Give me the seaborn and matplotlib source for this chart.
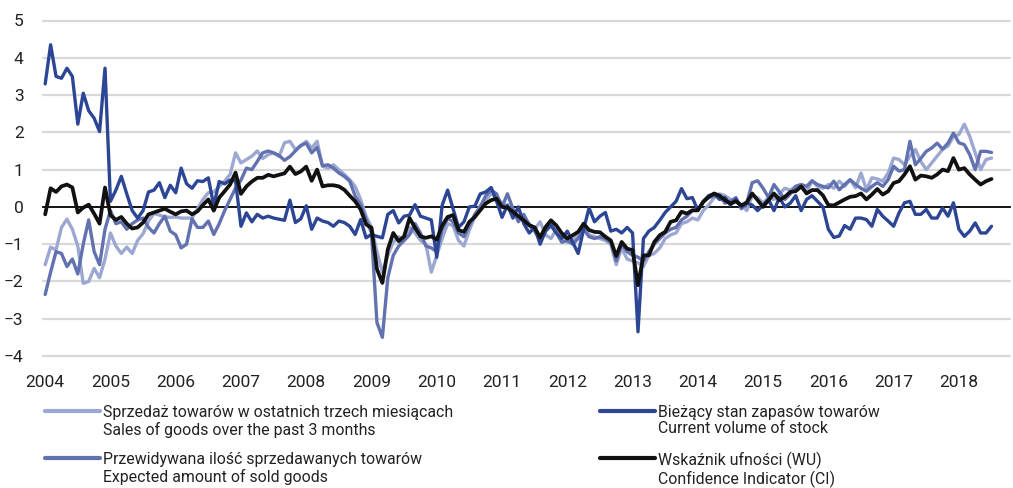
import pandas as pd
import numpy as np
import matplotlib.pyplot as plt
import seaborn as sns
from matplotlib.lines import Line2D
from matplotlib.ticker import FixedLocator

# monthly values, Jan 2004 - Jul 2018
sales = [
    -1.55, -1.08, -1.15, -0.55, -0.33, -0.6, -1.05, -2.05, -2.0, -1.65, -1.9, -1.4,
    -0.7, -1.05, -1.25, -1.08, -1.25, -0.9, -0.72, -0.38, -0.18, -0.22, -0.27, -0.28,
    -0.27, -0.3, -0.3, -0.3, -0.05, 0.2, 0.38, 0.4, 0.55, 0.69, 0.87, 1.45,
    1.18, 1.27, 1.36, 1.5, 1.3, 1.4, 1.45, 1.35, 1.72, 1.76, 1.54, 1.63,
    1.76, 1.58, 1.76, 1.09, 1.04, 1.13, 1.0, 0.87, 0.73, 0.55, 0.2, -0.25,
    -0.55, -1.2, -1.75, -1.3, -0.95, -0.8, -0.9, -0.55, -0.7, -0.9, -1.0, -1.75,
    -1.3, -0.85, -0.45, -0.5, -0.9, -1.05, -0.62, -0.27, 0.04, 0.18, 0.36, 0.25,
    0.1, 0.0, -0.1, -0.35, -0.25, -0.45, -0.6, -0.4, -0.75, -0.85, -0.6, -0.7,
    -0.95, -0.9, -0.75, -0.5, -0.75, -0.8, -0.85, -0.9, -1.0, -1.55, -1.1, -1.4,
    -1.45, -1.5, -1.6, -1.3, -1.25, -1.1, -0.85, -0.75, -0.7, -0.45, -0.4, -0.3,
    -0.35, -0.1, 0.05, 0.25, 0.35, 0.3, 0.2, 0.15, 0.05, -0.1, 0.3, 0.25,
    0.1, 0.25, 0.2, 0.35, 0.5, 0.45, 0.55, 0.6, 0.4, 0.7, 0.55, 0.5,
    0.6, 0.5, 0.69, 0.55, 0.73, 0.51, 0.91, 0.46, 0.78, 0.75, 0.69, 0.91,
    1.31, 1.27, 1.13, 1.36, 1.54, 1.22, 1.0, 1.18, 1.36, 1.54, 1.63, 1.89,
    1.94, 2.22, 1.89, 1.45, 1.0, 1.27, 1.31,
]
expected = [
    -2.35, -1.75, -1.2, -1.25, -1.6, -1.4, -1.8, -1.0, -0.35, -1.2, -1.55, -0.6,
    -0.1, -0.45, -0.4, -0.6, -0.45, -0.35, -0.3, -0.55, -0.7, -0.45, -0.25, -0.65,
    -0.75, -1.1, -1.0, -0.32, -0.55, -0.55, -0.38, -0.74, -0.45, -0.1, 0.2, 0.5,
    0.72, 1.04, 1.0, 1.22, 1.45, 1.5, 1.45, 1.38, 1.25, 1.35, 1.5, 1.65,
    1.71, 1.45, 1.6, 1.1, 1.13, 1.04, 0.91, 0.82, 0.69, 0.29, 0.06, -0.34,
    -0.7, -3.1, -3.5, -1.9, -1.3, -1.05, -0.9, -0.75, -0.45, -0.7, -1.05, -1.1,
    -1.2, -0.6, -0.3, -0.4, -0.7, -0.8, -0.5, -0.2, 0.0, 0.3, 0.45, 0.35,
    0.0, 0.35, -0.05, -0.4, -0.2, -0.5, -0.65, -0.9, -0.6, -0.45, -0.7, -0.95,
    -0.9, -1.0, -0.85, -0.6, -0.8, -0.85, -0.8, -0.85, -0.95, -1.45, -1.0, -1.2,
    -1.3, -1.35, -1.45, -1.2, -1.0, -0.85, -0.7, -0.6, -0.55, -0.35, -0.25, -0.1,
    -0.1, 0.15, 0.25, 0.3, 0.3, 0.1, 0.15, 0.25, -0.05, 0.1, 0.65, 0.7,
    0.5, 0.25, 0.6, 0.4, 0.2, 0.35, 0.55, 0.6, 0.55, 0.7, 0.6, 0.55,
    0.51, 0.69, 0.46, 0.6, 0.73, 0.6, 0.5, 0.42, 0.55, 0.65, 0.55, 0.73,
    1.09, 0.96, 1.0, 1.76, 1.13, 1.3, 1.49, 1.58, 1.71, 1.55, 1.71, 1.98,
    1.72, 1.67, 1.4, 1.0, 1.49, 1.49, 1.46,
]
stock = [
    3.3, 4.35, 3.5, 3.45, 3.72, 3.5, 2.22, 3.05, 2.58, 2.38, 2.02, 3.72,
    0.15, 0.45, 0.82, 0.35, -0.1, -0.3, -0.1, 0.4, 0.45, 0.65, 0.25, 0.58,
    0.38, 1.04, 0.62, 0.5, 0.7, 0.68, 0.78, 0.03, 0.68, 0.62, 0.72, 0.7,
    -0.52, -0.16, -0.4, -0.2, -0.3, -0.25, -0.3, -0.33, -0.36, 0.18, -0.42, -0.32,
    0.03, -0.6, -0.3, -0.38, -0.42, -0.52, -0.38, -0.42, -0.52, -0.74, -0.34, -0.83,
    -0.74, -0.79, -0.83, -0.2, -0.1, -0.43, -0.25, -0.22, 0.06, -0.25, -0.3, -0.35,
    -1.35, 0.05, 0.45, -0.05, -0.55, -0.4, 0.0, 0.02, 0.35, 0.4, 0.52, 0.15,
    -0.28, 0.05, -0.3, 0.0, -0.45, -0.7, -0.55, -1.0, -0.65, -0.5, -0.7, -0.85,
    -0.65, -0.95, -1.25, -0.6, -0.03, -0.4, -0.25, -0.15, -0.65, -0.6, -0.7, -0.55,
    -0.7, -3.35, -0.85, -0.65, -0.55, -0.36, -0.15, 0.0, 0.15, 0.49, 0.22, 0.25,
    -0.09, 0.15, 0.3, 0.35, 0.2, 0.25, 0.05, 0.2, 0.0, 0.1, 0.05, -0.1,
    0.05, 0.2, -0.1, 0.25, 0.0, 0.1, 0.3, -0.1, 0.2, 0.3, 0.15, 0.0,
    -0.6, -0.82, -0.78, -0.5, -0.6, -0.3, -0.3, -0.34, -0.52, -0.07, -0.25, -0.38,
    -0.52, -0.16, 0.11, 0.15, -0.2, -0.2, -0.07, -0.3, -0.3, -0.03, -0.25, 0.11,
    -0.6, -0.79, -0.65, -0.43, -0.7, -0.7, -0.52,
]
confidence = [
    -0.2, 0.5, 0.4, 0.55, 0.6, 0.52, -0.15, -0.02, 0.06, -0.18, -0.45, 0.52,
    -0.22, -0.35, -0.27, -0.45, -0.58, -0.55, -0.42, -0.2, -0.15, -0.1, -0.05, -0.13,
    -0.2, -0.12, -0.1, -0.2, -0.12, 0.05, 0.2, -0.1, 0.25, 0.42, 0.6, 0.92,
    0.35, 0.55, 0.68, 0.78, 0.78, 0.86, 0.82, 0.86, 0.9, 1.08, 0.88, 0.95,
    1.08, 0.7, 1.0, 0.55, 0.58, 0.58, 0.55, 0.46, 0.3, 0.15, -0.07, -0.47,
    -0.56, -1.67, -2.04, -1.14, -0.7, -0.92, -0.79, -0.3, -0.56, -0.79, -0.83, -0.79,
    -0.88, -0.5, -0.27, -0.22, -0.62, -0.67, -0.4, -0.27, -0.09, 0.09, 0.18, 0.22,
    0.0, -0.02, -0.13, -0.25, -0.36, -0.49, -0.55, -0.82, -0.54, -0.36, -0.5, -0.71,
    -0.85, -0.76, -0.67, -0.45, -0.62, -0.67, -0.68, -0.8, -0.9, -1.32, -0.94, -1.12,
    -1.16, -2.1, -1.3, -1.3, -0.94, -0.76, -0.67, -0.4, -0.36, -0.13, -0.18, -0.09,
    -0.09, 0.13, 0.27, 0.36, 0.3, 0.18, 0.09, 0.15, 0.04, 0.12, 0.36, 0.18,
    0.0, 0.18, 0.36, 0.18, 0.27, 0.4, 0.42, 0.55, 0.36, 0.45, 0.45, 0.31,
    0.05, 0.04, 0.12, 0.2, 0.27, 0.29, 0.36, 0.2, 0.33, 0.48, 0.33, 0.42,
    0.64, 0.69, 0.87, 1.09, 0.73, 0.84, 0.82, 0.78, 0.87, 1.0, 0.96, 1.31,
    1.0, 1.04, 0.87, 0.73, 0.6, 0.69, 0.75,
]
years = list(range(2004, 2019))

labels_pl = ['Sprzedaż towarów w ostatnich trzech miesiącach',
             'Przewidywana ilość sprzedawanych towarów',
             'Bieżący stan zapasów towarów',
             'Wskaźnik ufności (WU)']
labels_en = ['Sales of goods over the past 3 months',
             'Expected amount of sold goods',
             'Current volume of stock',
             'Confidence Indicator (CI)']
colors = ['#9ca8d1', '#6271b0', '#2c4595', '#111111']
widths = [2.4, 2.4, 2.4, 2.7]

series = [sales, expected, stock, confidence]
df = pd.concat([pd.DataFrame({'month': np.arange(len(s)), 'value': s, 'series': lab})
                for s, lab in zip(series, labels_pl)], ignore_index=True)

sns.set_style('white')
plt.rcParams['font.family'] = ['Roboto', 'DejaVu Sans']

fig = plt.figure(figsize=(10.13, 4.88), dpi=100)
ax = fig.add_axes([43/1013, 1 - 356/488, (1010-43)/1013, (356-20.5)/488])

ax.set_ylim(-4, 5)
ax.set_xlim(-0.4, 177.4)
for v in range(-4, 6):
    if v != 0:
        ax.axhline(v, color='#d9d9d9', lw=1.6, zorder=0, clip_on=False)

for lab, c, w in zip(labels_pl, colors, widths):
    sns.lineplot(data=df[df['series'] == lab], x='month', y='value', color=c,
                 linewidth=w, legend=False, ax=ax, zorder=3)

# zero line acts as the x axis with small ticks every two months
for side in ['top', 'right', 'left']:
    ax.spines[side].set_visible(False)
ax.spines['bottom'].set_position(('data', 0))
ax.spines['bottom'].set_color('black')
ax.spines['bottom'].set_linewidth(1.3)
ax.spines['bottom'].set_zorder(2)
ax.xaxis.set_major_locator(FixedLocator([12 * i for i in range(len(years))]))
ax.xaxis.set_minor_locator(FixedLocator(np.arange(-0.5, 177, 2)))
ax.set_xticklabels([str(y) for y in years])
ax.tick_params(axis='x', which='major', length=0, pad=121, labelsize=12.5, colors='#222222')
ax.tick_params(axis='x', which='minor', length=4, width=1.2, direction='out', color='black')
ax.set_yticks(range(-4, 6))
ax.tick_params(axis='y', length=0, pad=14, labelsize=12.5, colors='#222222')
ax.set_xlabel('')
ax.set_ylabel('')

# legend: two columns, handle next to the first line of each label
pos = [(45, 411), (45, 458), (600, 411), (600, 458)]
for (x0, y0), c, lp, le in zip(pos, colors, labels_pl, labels_en):
    fig.add_artist(Line2D([x0/1013, (x0+55)/1013], [1 - y0/488, 1 - y0/488],
                          color=c, lw=3, transform=fig.transFigure))
    fig.text((x0+58)/1013, 1 - (y0 - 6)/488, lp + '\n' + le, va='top', ha='left',
             fontsize=11.4, linespacing=1.12, color='#222222',
             family=['Liberation Sans Narrow', 'Roboto', 'DejaVu Sans'],
             transform=fig.transFigure)

fig.savefig('out.png', dpi=100)
